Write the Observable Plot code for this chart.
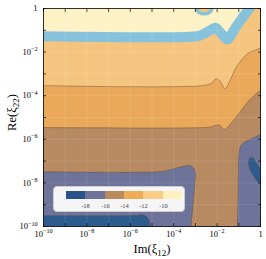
<!DOCTYPE html>
<html><head><meta charset="utf-8">
<script src="https://cdn.jsdelivr.net/npm/d3@7"></script>
<script src="https://cdn.jsdelivr.net/npm/@observablehq/plot@0.6"></script>
<style>
body{margin:0;background:#fff;}
#wrap{position:relative;width:266px;height:259px;}
#box{position:absolute;left:53px;top:186px;width:132px;height:26px;background:rgba(255,255,255,0.93);border:0.8px solid #cfcfcf;border-radius:4px;box-sizing:border-box;}
#leg{position:absolute;left:66px;top:191px;}
#leg text{font-family:"Liberation Serif",serif;font-size:6.5px;fill:#444;}
</style></head><body><div id="wrap"><div id="box"></div><div id="leg"></div></div>
<script>
// tick exponents (decades) on both axes
const decades = [-10,-9,-8,-7,-6,-5,-4,-3,-2,-1,0];
// colour levels of the filled contours
const levels = [-18,-16,-14,-12,-10];
const levelColors = ["#2a528a","#6f7299","#bc8b5d","#eeac58","#f9cd85","#fef0bf"];
const fillColors = ["#2d5b8e","#6e7399","#b78a62","#eaa95a","#f5c57f","#fdf1c6"];
const bandColor = "#86c2dc";
const xLabel = "Im(ξ_{12})";
const yLabel = "Re(ξ_{22})";
// contour boundaries, as [log10 Im(xi12), log10 Re(xi22)]
const c18 = [[-10.5,-9.5],[-5.8,-9.5],[-5.4,-9.47],[-5.2,-9.6],[-5.1,-9.85],[-5.05,-10.5]];
const c18blob = [[-0.47,-6.85],[-0.55,-7.05],[-0.47,-7.4],[-0.3,-7.72],[-0.1,-7.97],[0.03,-8.02],[0.04,-7.55],[-0.18,-7.1],[-0.34,-6.86]];
const c16a = [[-10.5,-7.48],[-4.6,-7.48],[-4.1,-7.38],[-3.6,-7.25],[-3.3,-7.2],[-3.1,-7.3],[-3.0,-7.55],[-3.03,-8.1],[-3.1,-8.9],[-3.2,-10],[-3.22,-10.5]];
const c16b = [[-1.1,-10.5],[-1.07,-10],[-1.04,-9],[-1.02,-7.6],[-1.0,-6.75],[-0.93,-6.35],[-0.8,-6.18],[-0.6,-6.07],[-0.3,-5.92],[0,-5.78],[0.3,-5.65]];
const c14 = [[-10.5,-5.46],[-2.6,-5.46],[-2.25,-5.42],[-2.0,-5.33],[-1.85,-5.38],[-1.68,-5.55],[-1.52,-5.45],[-1.35,-5.25],[-1.15,-5.02],[-0.9,-4.7],[-0.6,-4.3],[-0.3,-4.0],[0,-3.76],[0.3,-3.65]];
const c12 = [[-10.5,-3.53],[-2.6,-3.53],[-2.25,-3.42],[-2.05,-3.22],[-1.88,-3.32],[-1.62,-3.68],[-1.45,-3.4],[-1.2,-2.85],[-1.0,-2.52],[-0.6,-2.08],[-0.3,-1.93],[0,-1.83],[0.3,-1.78]];
const c10 = [[-10.5,-1.27],[-2.95,-1.27],[-2.7,-1.2],[-2.35,-1.02],[-2.07,-0.88],[-1.85,-1.1],[-1.52,-1.42],[-1.35,-1.2],[-1.1,-0.8],[-0.85,-0.45],[-0.6,-0.12],[-0.45,0.1],[-0.4,0.3]];
const patch = [[-2.95,0.15],[-2.9,-0.12],[-2.72,-0.23],[-2.45,-0.22],[-2.28,-0.1],[-2.22,0.15]];
// corners just outside the domain, to close polygons
const TL = [-10.5,0.5], TR = [0.5,0.5], BR = [0.5,-10.5];

const X = d => 10 ** d[0], Y = d => 10 ** d[1];
const fmt = v => { const e = Math.round(Math.log10(v)); if (e % 2) return ""; if (e === 0) return "1"; return "10^{" + String(e).replace("-", "−") + "}"; };
const ticks = decades.map(e => 10 ** e);
const curve = "catmull-rom";
const poly = (pts, fill) => Plot.line(pts, {x: X, y: Y, fill, stroke: "none", curve, clip: true});
const cline = pts => Plot.line(pts, {x: X, y: Y, stroke: "#5c4a3a", strokeWidth: 0.6, strokeOpacity: 0.75, curve, clip: true});

const chart = Plot.plot({
  width: 266, height: 259,
  marginLeft: 43, marginRight: 6, marginTop: 8, marginBottom: 33,
  style: {fontFamily: "'Liberation Serif', serif", background: "white", color: "black"},
  x: {type: "log", domain: [1e-10, 1]},
  y: {type: "log", domain: [1e-10, 1]},
  marks: [
    Plot.frame({fill: fillColors[0]}),
    poly([...c18, BR, TR, TL], fillColors[1]),
    poly([...c16a, ...c16b, TR, TL], fillColors[2]),
    Plot.line(c18blob, {x: X, y: Y, fill: fillColors[0], stroke: "#5c4a3a", strokeWidth: 0.6, strokeOpacity: 0.75, curve: "catmull-rom-closed", clip: true}),
    poly([...c14, TR, TL], fillColors[3]),
    poly([...c12, TR, TL], fillColors[4]),
    poly([...c10, TL], fillColors[5]),
    Plot.line(c10, {x: X, y: Y, stroke: bandColor, strokeWidth: 10, curve, clip: true}),
    Plot.line(patch, {x: X, y: Y, fill: fillColors[4], stroke: bandColor, strokeWidth: 3.5, curve, clip: true}),
    cline(c18), cline(c16a), cline(c16b), cline(c14), cline(c12),
    Plot.gridX(ticks, {stroke: "white", strokeOpacity: 0.18, strokeWidth: 0.6}),
    Plot.gridY(ticks, {stroke: "white", strokeOpacity: 0.18, strokeWidth: 0.6}),
    Plot.axisX(ticks, {anchor: "bottom", tickSize: 0, tickPadding: 4, tickFormat: fmt, fontSize: 8.5, label: null}),
    Plot.axisY(ticks, {anchor: "left", tickSize: 0, tickPadding: 6, tickFormat: fmt, fontSize: 8.5, label: null}),
    Plot.axisX(ticks, {anchor: "bottom", tickSize: -3, tickFormat: () => "", label: null, strokeWidth: 0.7}),
    Plot.axisX(ticks, {anchor: "top", tickSize: -3, tickFormat: () => "", label: null, strokeWidth: 0.7}),
    Plot.axisY(ticks, {anchor: "left", tickSize: -3, tickFormat: () => "", label: null, strokeWidth: 0.7}),
    Plot.axisY(ticks, {anchor: "right", tickSize: -3, tickFormat: () => "", label: null, strokeWidth: 0.7}),
    Plot.frame({stroke: "black", strokeWidth: 0.8}),
    Plot.text([xLabel], {frameAnchor: "bottom", lineAnchor: "bottom", dy: 26, fontSize: 12.5, fill: "black"}),
    Plot.text([yLabel], {frameAnchor: "left", textAnchor: "middle", lineAnchor: "middle", dx: -32, dy: -5, rotate: -90, fontSize: 12.5, fill: "black"})
  ]
});

// turn "a^{b}" / "a_{b}" into real superscript / subscript tspans
function rich(t) {
  const m = t.textContent.match(/^(.*?)([\^_])\{(.+?)\}(.*)$/);
  if (!m) return;
  const fs = parseFloat(t.getAttribute("font-size")) || parseFloat(getComputedStyle(t).fontSize) || 10;
  const shift = m[2] === "^" ? -0.42 * fs : 0.28 * fs;
  const ns = "http://www.w3.org/2000/svg";
  t.textContent = "";
  const a = document.createElementNS(ns, "tspan"); a.textContent = m[1]; t.appendChild(a);
  const b = document.createElementNS(ns, "tspan"); b.textContent = m[3];
  b.setAttribute("dy", shift); b.setAttribute("font-size", (0.72 * fs).toFixed(2)); t.appendChild(b);
  if (m[4]) { const c = document.createElementNS(ns, "tspan"); c.textContent = m[4]; c.setAttribute("dy", -shift); t.appendChild(c); }
}
document.getElementById("wrap").prepend(chart);
chart.querySelectorAll("text").forEach(rich);

const legend = Plot.legend({
  color: {type: "threshold", domain: levels, range: levelColors},
  width: 116, height: 22, marginTop: 0, marginBottom: 14, marginLeft: 0, marginRight: 0,
  tickSize: 1.5
});
legend.querySelectorAll(".tick line").forEach(l => l.remove());
document.getElementById("leg").appendChild(legend);
</script></body></html>
